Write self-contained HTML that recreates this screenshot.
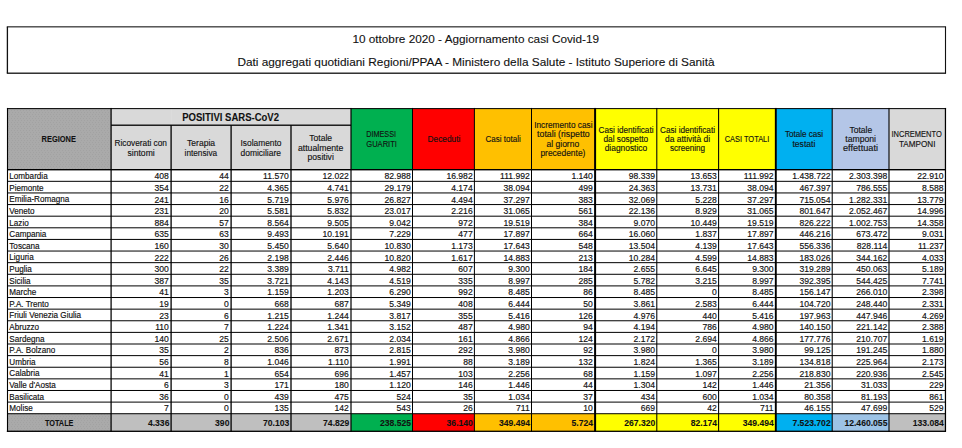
<!DOCTYPE html>
<html><head><meta charset="utf-8"><title>Aggiornamento casi Covid-19</title>
<style>html,body{margin:0;padding:0;background:#fff;width:962px;height:448px;overflow:hidden}</style>
</head><body>
<svg width="962" height="448" viewBox="0 0 962 448" style="position:absolute;left:0;top:0;display:block" font-family='"Liberation Sans", sans-serif' fill="#111" stroke="#111" stroke-width="0.16" paint-order="stroke">
<defs><pattern id="dots" width="3" height="4" patternUnits="userSpaceOnUse" stroke="none"><rect width="3" height="4" fill="#AAAAAA"/><rect x="0" y="0" width="1" height="1" fill="#A2A2A2"/><rect x="2" y="2" width="1" height="1" fill="#A2A2A2"/></pattern></defs>
<rect x="0" y="0" width="962" height="448" fill="#fff" stroke="none"/>
<rect x="7.50" y="108.55" width="103.60" height="61.15" fill="url(#dots)" stroke="none"/>
<rect x="111.10" y="108.55" width="60.00" height="61.15" fill="#D9D9D9" stroke="none"/>
<rect x="171.10" y="108.55" width="60.00" height="61.15" fill="#D9D9D9" stroke="none"/>
<rect x="231.10" y="108.55" width="59.90" height="61.15" fill="#D9D9D9" stroke="none"/>
<rect x="291.00" y="108.55" width="60.00" height="61.15" fill="#D9D9D9" stroke="none"/>
<rect x="351.00" y="108.55" width="61.50" height="61.15" fill="#00B050" stroke="none"/>
<rect x="412.50" y="108.55" width="61.90" height="61.15" fill="#FF0000" stroke="none"/>
<rect x="474.40" y="108.55" width="57.10" height="61.15" fill="#FFC000" stroke="none"/>
<rect x="531.50" y="108.55" width="63.60" height="61.15" fill="#FFC000" stroke="none"/>
<rect x="595.10" y="108.55" width="61.70" height="61.15" fill="#FFFF00" stroke="none"/>
<rect x="656.80" y="108.55" width="61.80" height="61.15" fill="#FFFF00" stroke="none"/>
<rect x="718.60" y="108.55" width="57.20" height="61.15" fill="#FFFF00" stroke="none"/>
<rect x="775.80" y="108.55" width="56.40" height="61.15" fill="#00B0F0" stroke="none"/>
<rect x="832.20" y="108.55" width="56.80" height="61.15" fill="#B4C6E7" stroke="none"/>
<rect x="889.00" y="108.55" width="56.45" height="61.15" fill="#D9D9D9" stroke="none"/>
<rect x="7.50" y="413.72" width="103.60" height="17.58" fill="url(#dots)" stroke="none"/>
<rect x="111.10" y="413.72" width="60.00" height="17.58" fill="#BFBFBF" stroke="none"/>
<rect x="171.10" y="413.72" width="60.00" height="17.58" fill="#BFBFBF" stroke="none"/>
<rect x="231.10" y="413.72" width="59.90" height="17.58" fill="#BFBFBF" stroke="none"/>
<rect x="291.00" y="413.72" width="60.00" height="17.58" fill="#BFBFBF" stroke="none"/>
<rect x="351.00" y="413.72" width="61.50" height="17.58" fill="#00B050" stroke="none"/>
<rect x="412.50" y="413.72" width="61.90" height="17.58" fill="#FF0000" stroke="none"/>
<rect x="474.40" y="413.72" width="57.10" height="17.58" fill="#FFC000" stroke="none"/>
<rect x="531.50" y="413.72" width="63.60" height="17.58" fill="#FFC000" stroke="none"/>
<rect x="595.10" y="413.72" width="61.70" height="17.58" fill="#FFFF00" stroke="none"/>
<rect x="656.80" y="413.72" width="61.80" height="17.58" fill="#FFFF00" stroke="none"/>
<rect x="718.60" y="413.72" width="57.20" height="17.58" fill="#FFFF00" stroke="none"/>
<rect x="775.80" y="413.72" width="56.40" height="17.58" fill="#00B0F0" stroke="none"/>
<rect x="832.20" y="413.72" width="56.80" height="17.58" fill="#9DC3E6" stroke="none"/>
<rect x="889.00" y="413.72" width="56.45" height="17.58" fill="#BFBFBF" stroke="none"/>
<rect x="6.80" y="26.10" width="939.25" height="1.40" fill="#484848" stroke="none"/>
<rect x="6.80" y="72.55" width="939.25" height="1.30" fill="#111" stroke="none"/>
<rect x="6.75" y="26.80" width="1.30" height="46.40" fill="#111" stroke="none"/>
<rect x="944.95" y="26.80" width="1.10" height="46.40" fill="#111" stroke="none"/>
<rect x="6.95" y="107.95" width="1.10" height="323.95" fill="#000" stroke="none"/>
<rect x="110.47" y="107.95" width="1.25" height="323.95" fill="#000" stroke="none"/>
<rect x="170.45" y="125.20" width="1.30" height="306.70" fill="#000" stroke="none"/>
<rect x="230.45" y="125.20" width="1.30" height="306.70" fill="#000" stroke="none"/>
<rect x="290.35" y="125.20" width="1.30" height="306.70" fill="#000" stroke="none"/>
<rect x="350.40" y="107.95" width="1.20" height="323.95" fill="#000" stroke="none"/>
<rect x="412.00" y="107.95" width="1.00" height="323.95" fill="#000" stroke="none"/>
<rect x="473.90" y="107.95" width="1.00" height="323.95" fill="#000" stroke="none"/>
<rect x="531.00" y="107.95" width="1.00" height="323.95" fill="#000" stroke="none"/>
<rect x="594.10" y="107.95" width="2.00" height="323.95" fill="#000" stroke="none"/>
<rect x="656.27" y="107.95" width="1.05" height="323.95" fill="#000" stroke="none"/>
<rect x="718.08" y="107.95" width="1.05" height="323.95" fill="#000" stroke="none"/>
<rect x="774.85" y="107.95" width="1.90" height="323.95" fill="#000" stroke="none"/>
<rect x="831.68" y="107.95" width="1.05" height="323.95" fill="#000" stroke="none"/>
<rect x="888.45" y="107.95" width="1.10" height="323.95" fill="#000" stroke="none"/>
<rect x="944.83" y="107.95" width="1.25" height="323.95" fill="#000" stroke="none"/>
<rect x="6.95" y="108.10" width="939.10" height="1.00" fill="#000" stroke="none"/>
<rect x="111.10" y="124.55" width="239.90" height="1.30" fill="#000" stroke="none"/>
<rect x="7.50" y="169.00" width="937.95" height="1.40" fill="#000" stroke="none"/>
<rect x="7.50" y="180.82" width="937.95" height="1.00" fill="#000" stroke="none"/>
<rect x="7.50" y="192.44" width="937.95" height="1.00" fill="#000" stroke="none"/>
<rect x="7.50" y="204.06" width="937.95" height="1.00" fill="#000" stroke="none"/>
<rect x="7.50" y="215.68" width="937.95" height="1.00" fill="#000" stroke="none"/>
<rect x="7.50" y="227.30" width="937.95" height="1.00" fill="#000" stroke="none"/>
<rect x="7.50" y="238.92" width="937.95" height="1.00" fill="#000" stroke="none"/>
<rect x="7.50" y="250.54" width="937.95" height="1.00" fill="#000" stroke="none"/>
<rect x="7.50" y="262.16" width="937.95" height="1.00" fill="#000" stroke="none"/>
<rect x="7.50" y="273.78" width="937.95" height="1.00" fill="#000" stroke="none"/>
<rect x="7.50" y="285.40" width="937.95" height="1.00" fill="#000" stroke="none"/>
<rect x="7.50" y="297.02" width="937.95" height="1.00" fill="#000" stroke="none"/>
<rect x="7.50" y="308.64" width="937.95" height="1.00" fill="#000" stroke="none"/>
<rect x="7.50" y="320.26" width="937.95" height="1.00" fill="#000" stroke="none"/>
<rect x="7.50" y="331.88" width="937.95" height="1.00" fill="#000" stroke="none"/>
<rect x="7.50" y="343.50" width="937.95" height="1.00" fill="#000" stroke="none"/>
<rect x="7.50" y="355.12" width="937.95" height="1.00" fill="#000" stroke="none"/>
<rect x="7.50" y="366.74" width="937.95" height="1.00" fill="#000" stroke="none"/>
<rect x="7.50" y="378.36" width="937.95" height="1.00" fill="#000" stroke="none"/>
<rect x="7.50" y="389.98" width="937.95" height="1.00" fill="#000" stroke="none"/>
<rect x="7.50" y="401.60" width="937.95" height="1.00" fill="#000" stroke="none"/>
<rect x="7.50" y="413.22" width="937.95" height="1.00" fill="#000" stroke="none"/>
<rect x="6.85" y="430.65" width="939.15" height="1.30" fill="#000" stroke="none"/>
<text x="475.70" y="42.60" font-size="11.3" text-anchor="middle" textLength="246.60" lengthAdjust="spacingAndGlyphs" stroke-width="0.1">10 ottobre 2020 - Aggiornamento casi Covid-19</text>
<text x="476.00" y="65.50" font-size="11.3" text-anchor="middle" textLength="477.20" lengthAdjust="spacingAndGlyphs" stroke-width="0.1">Dati aggregati quotidiani Regioni/PPAA - Ministero della Salute - Istituto Superiore di Sanità</text>
<text x="58.75" y="141.50" font-size="8.6" text-anchor="middle" font-weight="700" textLength="34.30" lengthAdjust="spacingAndGlyphs" stroke-width="0.08">REGIONE</text>
<text x="230.60" y="121.00" font-size="10.2" text-anchor="middle" font-weight="700" textLength="96.80" lengthAdjust="spacingAndGlyphs" stroke-width="0.08">POSITIVI SARS-CoV2</text>
<text x="140.70" y="146.00" font-size="8.35" text-anchor="middle" textLength="52.60" lengthAdjust="spacingAndGlyphs" stroke-width="0.13">Ricoverati con</text>
<text x="141.10" y="155.70" font-size="8.35" text-anchor="middle" textLength="27.20" lengthAdjust="spacingAndGlyphs" stroke-width="0.13">sintomi</text>
<text x="201.10" y="146.00" font-size="8.35" text-anchor="middle" textLength="28.00" lengthAdjust="spacingAndGlyphs" stroke-width="0.13">Terapia</text>
<text x="200.85" y="155.70" font-size="8.35" text-anchor="middle" textLength="32.50" lengthAdjust="spacingAndGlyphs" stroke-width="0.13">intensiva</text>
<text x="261.00" y="145.90" font-size="8.35" text-anchor="middle" textLength="41.00" lengthAdjust="spacingAndGlyphs" stroke-width="0.13">Isolamento</text>
<text x="260.75" y="155.60" font-size="8.35" text-anchor="middle" textLength="40.50" lengthAdjust="spacingAndGlyphs" stroke-width="0.13">domiciliare</text>
<text x="320.65" y="140.90" font-size="8.35" text-anchor="middle" textLength="22.90" lengthAdjust="spacingAndGlyphs" stroke-width="0.13">Totale</text>
<text x="320.65" y="150.90" font-size="8.35" text-anchor="middle" textLength="45.50" lengthAdjust="spacingAndGlyphs" stroke-width="0.13">attualmente</text>
<text x="320.70" y="159.60" font-size="8.35" text-anchor="middle" textLength="26.20" lengthAdjust="spacingAndGlyphs" stroke-width="0.13">positivi</text>
<text x="381.15" y="137.10" font-size="8.35" text-anchor="middle" textLength="29.70" lengthAdjust="spacingAndGlyphs" stroke-width="0.13">DIMESSI</text>
<text x="381.60" y="146.80" font-size="8.35" text-anchor="middle" textLength="30.60" lengthAdjust="spacingAndGlyphs" stroke-width="0.13">GUARITI</text>
<text x="443.95" y="141.80" font-size="8.35" text-anchor="middle" textLength="32.90" lengthAdjust="spacingAndGlyphs" stroke-width="0.13">Deceduti</text>
<text x="503.10" y="141.80" font-size="8.35" text-anchor="middle" textLength="35.20" lengthAdjust="spacingAndGlyphs" stroke-width="0.13">Casi totali</text>
<text x="563.35" y="127.60" font-size="8.35" text-anchor="middle" textLength="58.30" lengthAdjust="spacingAndGlyphs" stroke-width="0.13">Incremento casi</text>
<text x="563.40" y="137.30" font-size="8.35" text-anchor="middle" textLength="52.60" lengthAdjust="spacingAndGlyphs" stroke-width="0.13">totali (rispetto</text>
<text x="562.85" y="146.80" font-size="8.35" text-anchor="middle" textLength="32.70" lengthAdjust="spacingAndGlyphs" stroke-width="0.13">al giorno</text>
<text x="562.90" y="156.40" font-size="8.35" text-anchor="middle" textLength="45.00" lengthAdjust="spacingAndGlyphs" stroke-width="0.13">precedente)</text>
<text x="626.00" y="132.60" font-size="8.35" text-anchor="middle" textLength="55.00" lengthAdjust="spacingAndGlyphs" stroke-width="0.13">Casi identificati</text>
<text x="625.85" y="141.80" font-size="8.35" text-anchor="middle" textLength="44.70" lengthAdjust="spacingAndGlyphs" stroke-width="0.13">dal sospetto</text>
<text x="625.95" y="151.20" font-size="8.35" text-anchor="middle" textLength="42.50" lengthAdjust="spacingAndGlyphs" stroke-width="0.13">diagnostico</text>
<text x="687.50" y="132.60" font-size="8.35" text-anchor="middle" textLength="55.00" lengthAdjust="spacingAndGlyphs" stroke-width="0.13">Casi identificati</text>
<text x="687.55" y="141.80" font-size="8.35" text-anchor="middle" textLength="45.10" lengthAdjust="spacingAndGlyphs" stroke-width="0.13">da attività di</text>
<text x="687.50" y="151.20" font-size="8.35" text-anchor="middle" textLength="35.20" lengthAdjust="spacingAndGlyphs" stroke-width="0.13">screening</text>
<text x="747.00" y="141.80" font-size="8.35" text-anchor="middle" textLength="44.60" lengthAdjust="spacingAndGlyphs" stroke-width="0.13">CASI TOTALI</text>
<text x="804.00" y="137.10" font-size="8.35" text-anchor="middle" textLength="38.20" lengthAdjust="spacingAndGlyphs" stroke-width="0.13">Totale casi</text>
<text x="803.90" y="146.80" font-size="8.35" text-anchor="middle" textLength="23.00" lengthAdjust="spacingAndGlyphs" stroke-width="0.13">testati</text>
<text x="860.80" y="132.60" font-size="8.35" text-anchor="middle" textLength="22.80" lengthAdjust="spacingAndGlyphs" stroke-width="0.13">Totale</text>
<text x="860.65" y="141.80" font-size="8.35" text-anchor="middle" textLength="30.70" lengthAdjust="spacingAndGlyphs" stroke-width="0.13">tamponi</text>
<text x="860.50" y="151.20" font-size="8.35" text-anchor="middle" textLength="35.00" lengthAdjust="spacingAndGlyphs" stroke-width="0.13">effettuati</text>
<text x="916.60" y="137.10" font-size="8.35" text-anchor="middle" textLength="50.20" lengthAdjust="spacingAndGlyphs" stroke-width="0.13">INCREMENTO</text>
<text x="917.20" y="146.80" font-size="8.35" text-anchor="middle" textLength="36.40" lengthAdjust="spacingAndGlyphs" stroke-width="0.13">TAMPONI</text>
<text x="9.30" y="179.22" font-size="8.15">Lombardia</text>
<text x="168.85" y="179.42" font-size="8.6" text-anchor="end">408</text>
<text x="228.85" y="179.42" font-size="8.6" text-anchor="end">44</text>
<text x="288.75" y="179.42" font-size="8.6" text-anchor="end">11.570</text>
<text x="348.80" y="179.42" font-size="8.6" text-anchor="end">12.022</text>
<text x="410.80" y="179.42" font-size="8.6" text-anchor="end">82.988</text>
<text x="472.70" y="179.42" font-size="8.6" text-anchor="end">16.982</text>
<text x="529.80" y="179.42" font-size="8.6" text-anchor="end">111.992</text>
<text x="592.90" y="179.42" font-size="8.6" text-anchor="end">1.140</text>
<text x="655.07" y="179.42" font-size="8.6" text-anchor="end">98.339</text>
<text x="716.88" y="179.42" font-size="8.6" text-anchor="end">13.653</text>
<text x="773.65" y="179.42" font-size="8.6" text-anchor="end">111.992</text>
<text x="830.48" y="179.42" font-size="8.6" text-anchor="end">1.438.722</text>
<text x="887.25" y="179.42" font-size="8.6" text-anchor="end">2.303.398</text>
<text x="943.62" y="179.42" font-size="8.6" text-anchor="end">22.910</text>
<text x="9.30" y="190.82" font-size="8.15">Piemonte</text>
<text x="168.85" y="191.02" font-size="8.6" text-anchor="end">354</text>
<text x="228.85" y="191.02" font-size="8.6" text-anchor="end">22</text>
<text x="288.75" y="191.02" font-size="8.6" text-anchor="end">4.365</text>
<text x="348.80" y="191.02" font-size="8.6" text-anchor="end">4.741</text>
<text x="410.80" y="191.02" font-size="8.6" text-anchor="end">29.179</text>
<text x="472.70" y="191.02" font-size="8.6" text-anchor="end">4.174</text>
<text x="529.80" y="191.02" font-size="8.6" text-anchor="end">38.094</text>
<text x="592.90" y="191.02" font-size="8.6" text-anchor="end">499</text>
<text x="655.07" y="191.02" font-size="8.6" text-anchor="end">24.363</text>
<text x="716.88" y="191.02" font-size="8.6" text-anchor="end">13.731</text>
<text x="773.65" y="191.02" font-size="8.6" text-anchor="end">38.094</text>
<text x="830.48" y="191.02" font-size="8.6" text-anchor="end">467.397</text>
<text x="887.25" y="191.02" font-size="8.6" text-anchor="end">786.555</text>
<text x="943.62" y="191.02" font-size="8.6" text-anchor="end">8.588</text>
<text x="9.30" y="202.42" font-size="8.15">Emilia-Romagna</text>
<text x="168.85" y="202.62" font-size="8.6" text-anchor="end">241</text>
<text x="228.85" y="202.62" font-size="8.6" text-anchor="end">16</text>
<text x="288.75" y="202.62" font-size="8.6" text-anchor="end">5.719</text>
<text x="348.80" y="202.62" font-size="8.6" text-anchor="end">5.976</text>
<text x="410.80" y="202.62" font-size="8.6" text-anchor="end">26.827</text>
<text x="472.70" y="202.62" font-size="8.6" text-anchor="end">4.494</text>
<text x="529.80" y="202.62" font-size="8.6" text-anchor="end">37.297</text>
<text x="592.90" y="202.62" font-size="8.6" text-anchor="end">383</text>
<text x="655.07" y="202.62" font-size="8.6" text-anchor="end">32.069</text>
<text x="716.88" y="202.62" font-size="8.6" text-anchor="end">5.228</text>
<text x="773.65" y="202.62" font-size="8.6" text-anchor="end">37.297</text>
<text x="830.48" y="202.62" font-size="8.6" text-anchor="end">715.054</text>
<text x="887.25" y="202.62" font-size="8.6" text-anchor="end">1.282.331</text>
<text x="943.62" y="202.62" font-size="8.6" text-anchor="end">13.779</text>
<text x="9.30" y="214.01" font-size="8.15">Veneto</text>
<text x="168.85" y="214.21" font-size="8.6" text-anchor="end">231</text>
<text x="228.85" y="214.21" font-size="8.6" text-anchor="end">20</text>
<text x="288.75" y="214.21" font-size="8.6" text-anchor="end">5.581</text>
<text x="348.80" y="214.21" font-size="8.6" text-anchor="end">5.832</text>
<text x="410.80" y="214.21" font-size="8.6" text-anchor="end">23.017</text>
<text x="472.70" y="214.21" font-size="8.6" text-anchor="end">2.216</text>
<text x="529.80" y="214.21" font-size="8.6" text-anchor="end">31.065</text>
<text x="592.90" y="214.21" font-size="8.6" text-anchor="end">561</text>
<text x="655.07" y="214.21" font-size="8.6" text-anchor="end">22.136</text>
<text x="716.88" y="214.21" font-size="8.6" text-anchor="end">8.929</text>
<text x="773.65" y="214.21" font-size="8.6" text-anchor="end">31.065</text>
<text x="830.48" y="214.21" font-size="8.6" text-anchor="end">801.647</text>
<text x="887.25" y="214.21" font-size="8.6" text-anchor="end">2.052.467</text>
<text x="943.62" y="214.21" font-size="8.6" text-anchor="end">14.996</text>
<text x="9.30" y="225.61" font-size="8.15">Lazio</text>
<text x="168.85" y="225.81" font-size="8.6" text-anchor="end">884</text>
<text x="228.85" y="225.81" font-size="8.6" text-anchor="end">57</text>
<text x="288.75" y="225.81" font-size="8.6" text-anchor="end">8.564</text>
<text x="348.80" y="225.81" font-size="8.6" text-anchor="end">9.505</text>
<text x="410.80" y="225.81" font-size="8.6" text-anchor="end">9.042</text>
<text x="472.70" y="225.81" font-size="8.6" text-anchor="end">972</text>
<text x="529.80" y="225.81" font-size="8.6" text-anchor="end">19.519</text>
<text x="592.90" y="225.81" font-size="8.6" text-anchor="end">384</text>
<text x="655.07" y="225.81" font-size="8.6" text-anchor="end">9.070</text>
<text x="716.88" y="225.81" font-size="8.6" text-anchor="end">10.449</text>
<text x="773.65" y="225.81" font-size="8.6" text-anchor="end">19.519</text>
<text x="830.48" y="225.81" font-size="8.6" text-anchor="end">826.222</text>
<text x="887.25" y="225.81" font-size="8.6" text-anchor="end">1.002.753</text>
<text x="943.62" y="225.81" font-size="8.6" text-anchor="end">14.358</text>
<text x="9.30" y="237.21" font-size="8.15">Campania</text>
<text x="168.85" y="237.41" font-size="8.6" text-anchor="end">635</text>
<text x="228.85" y="237.41" font-size="8.6" text-anchor="end">63</text>
<text x="288.75" y="237.41" font-size="8.6" text-anchor="end">9.493</text>
<text x="348.80" y="237.41" font-size="8.6" text-anchor="end">10.191</text>
<text x="410.80" y="237.41" font-size="8.6" text-anchor="end">7.229</text>
<text x="472.70" y="237.41" font-size="8.6" text-anchor="end">477</text>
<text x="529.80" y="237.41" font-size="8.6" text-anchor="end">17.897</text>
<text x="592.90" y="237.41" font-size="8.6" text-anchor="end">664</text>
<text x="655.07" y="237.41" font-size="8.6" text-anchor="end">16.060</text>
<text x="716.88" y="237.41" font-size="8.6" text-anchor="end">1.837</text>
<text x="773.65" y="237.41" font-size="8.6" text-anchor="end">17.897</text>
<text x="830.48" y="237.41" font-size="8.6" text-anchor="end">446.216</text>
<text x="887.25" y="237.41" font-size="8.6" text-anchor="end">673.472</text>
<text x="943.62" y="237.41" font-size="8.6" text-anchor="end">9.031</text>
<text x="9.30" y="248.81" font-size="8.15">Toscana</text>
<text x="168.85" y="249.01" font-size="8.6" text-anchor="end">160</text>
<text x="228.85" y="249.01" font-size="8.6" text-anchor="end">30</text>
<text x="288.75" y="249.01" font-size="8.6" text-anchor="end">5.450</text>
<text x="348.80" y="249.01" font-size="8.6" text-anchor="end">5.640</text>
<text x="410.80" y="249.01" font-size="8.6" text-anchor="end">10.830</text>
<text x="472.70" y="249.01" font-size="8.6" text-anchor="end">1.173</text>
<text x="529.80" y="249.01" font-size="8.6" text-anchor="end">17.643</text>
<text x="592.90" y="249.01" font-size="8.6" text-anchor="end">548</text>
<text x="655.07" y="249.01" font-size="8.6" text-anchor="end">13.504</text>
<text x="716.88" y="249.01" font-size="8.6" text-anchor="end">4.139</text>
<text x="773.65" y="249.01" font-size="8.6" text-anchor="end">17.643</text>
<text x="830.48" y="249.01" font-size="8.6" text-anchor="end">556.336</text>
<text x="887.25" y="249.01" font-size="8.6" text-anchor="end">828.114</text>
<text x="943.62" y="249.01" font-size="8.6" text-anchor="end">11.237</text>
<text x="9.30" y="260.41" font-size="8.15">Liguria</text>
<text x="168.85" y="260.61" font-size="8.6" text-anchor="end">222</text>
<text x="228.85" y="260.61" font-size="8.6" text-anchor="end">26</text>
<text x="288.75" y="260.61" font-size="8.6" text-anchor="end">2.198</text>
<text x="348.80" y="260.61" font-size="8.6" text-anchor="end">2.446</text>
<text x="410.80" y="260.61" font-size="8.6" text-anchor="end">10.820</text>
<text x="472.70" y="260.61" font-size="8.6" text-anchor="end">1.617</text>
<text x="529.80" y="260.61" font-size="8.6" text-anchor="end">14.883</text>
<text x="592.90" y="260.61" font-size="8.6" text-anchor="end">213</text>
<text x="655.07" y="260.61" font-size="8.6" text-anchor="end">10.284</text>
<text x="716.88" y="260.61" font-size="8.6" text-anchor="end">4.599</text>
<text x="773.65" y="260.61" font-size="8.6" text-anchor="end">14.883</text>
<text x="830.48" y="260.61" font-size="8.6" text-anchor="end">183.026</text>
<text x="887.25" y="260.61" font-size="8.6" text-anchor="end">344.162</text>
<text x="943.62" y="260.61" font-size="8.6" text-anchor="end">4.033</text>
<text x="9.30" y="272.00" font-size="8.15">Puglia</text>
<text x="168.85" y="272.20" font-size="8.6" text-anchor="end">300</text>
<text x="228.85" y="272.20" font-size="8.6" text-anchor="end">22</text>
<text x="288.75" y="272.20" font-size="8.6" text-anchor="end">3.389</text>
<text x="348.80" y="272.20" font-size="8.6" text-anchor="end">3.711</text>
<text x="410.80" y="272.20" font-size="8.6" text-anchor="end">4.982</text>
<text x="472.70" y="272.20" font-size="8.6" text-anchor="end">607</text>
<text x="529.80" y="272.20" font-size="8.6" text-anchor="end">9.300</text>
<text x="592.90" y="272.20" font-size="8.6" text-anchor="end">184</text>
<text x="655.07" y="272.20" font-size="8.6" text-anchor="end">2.655</text>
<text x="716.88" y="272.20" font-size="8.6" text-anchor="end">6.645</text>
<text x="773.65" y="272.20" font-size="8.6" text-anchor="end">9.300</text>
<text x="830.48" y="272.20" font-size="8.6" text-anchor="end">319.289</text>
<text x="887.25" y="272.20" font-size="8.6" text-anchor="end">450.063</text>
<text x="943.62" y="272.20" font-size="8.6" text-anchor="end">5.189</text>
<text x="9.30" y="283.60" font-size="8.15">Sicilia</text>
<text x="168.85" y="283.80" font-size="8.6" text-anchor="end">387</text>
<text x="228.85" y="283.80" font-size="8.6" text-anchor="end">35</text>
<text x="288.75" y="283.80" font-size="8.6" text-anchor="end">3.721</text>
<text x="348.80" y="283.80" font-size="8.6" text-anchor="end">4.143</text>
<text x="410.80" y="283.80" font-size="8.6" text-anchor="end">4.519</text>
<text x="472.70" y="283.80" font-size="8.6" text-anchor="end">335</text>
<text x="529.80" y="283.80" font-size="8.6" text-anchor="end">8.997</text>
<text x="592.90" y="283.80" font-size="8.6" text-anchor="end">285</text>
<text x="655.07" y="283.80" font-size="8.6" text-anchor="end">5.782</text>
<text x="716.88" y="283.80" font-size="8.6" text-anchor="end">3.215</text>
<text x="773.65" y="283.80" font-size="8.6" text-anchor="end">8.997</text>
<text x="830.48" y="283.80" font-size="8.6" text-anchor="end">392.395</text>
<text x="887.25" y="283.80" font-size="8.6" text-anchor="end">544.425</text>
<text x="943.62" y="283.80" font-size="8.6" text-anchor="end">7.741</text>
<text x="9.30" y="295.20" font-size="8.15">Marche</text>
<text x="168.85" y="295.40" font-size="8.6" text-anchor="end">41</text>
<text x="228.85" y="295.40" font-size="8.6" text-anchor="end">3</text>
<text x="288.75" y="295.40" font-size="8.6" text-anchor="end">1.159</text>
<text x="348.80" y="295.40" font-size="8.6" text-anchor="end">1.203</text>
<text x="410.80" y="295.40" font-size="8.6" text-anchor="end">6.290</text>
<text x="472.70" y="295.40" font-size="8.6" text-anchor="end">992</text>
<text x="529.80" y="295.40" font-size="8.6" text-anchor="end">8.485</text>
<text x="592.90" y="295.40" font-size="8.6" text-anchor="end">86</text>
<text x="655.07" y="295.40" font-size="8.6" text-anchor="end">8.485</text>
<text x="716.88" y="295.40" font-size="8.6" text-anchor="end">0</text>
<text x="773.65" y="295.40" font-size="8.6" text-anchor="end">8.485</text>
<text x="830.48" y="295.40" font-size="8.6" text-anchor="end">156.147</text>
<text x="887.25" y="295.40" font-size="8.6" text-anchor="end">266.010</text>
<text x="943.62" y="295.40" font-size="8.6" text-anchor="end">2.398</text>
<text x="9.30" y="306.80" font-size="8.15">P.A. Trento</text>
<text x="168.85" y="307.00" font-size="8.6" text-anchor="end">19</text>
<text x="228.85" y="307.00" font-size="8.6" text-anchor="end">0</text>
<text x="288.75" y="307.00" font-size="8.6" text-anchor="end">668</text>
<text x="348.80" y="307.00" font-size="8.6" text-anchor="end">687</text>
<text x="410.80" y="307.00" font-size="8.6" text-anchor="end">5.349</text>
<text x="472.70" y="307.00" font-size="8.6" text-anchor="end">408</text>
<text x="529.80" y="307.00" font-size="8.6" text-anchor="end">6.444</text>
<text x="592.90" y="307.00" font-size="8.6" text-anchor="end">50</text>
<text x="655.07" y="307.00" font-size="8.6" text-anchor="end">3.861</text>
<text x="716.88" y="307.00" font-size="8.6" text-anchor="end">2.583</text>
<text x="773.65" y="307.00" font-size="8.6" text-anchor="end">6.444</text>
<text x="830.48" y="307.00" font-size="8.6" text-anchor="end">104.720</text>
<text x="887.25" y="307.00" font-size="8.6" text-anchor="end">248.440</text>
<text x="943.62" y="307.00" font-size="8.6" text-anchor="end">2.331</text>
<text x="9.30" y="318.40" font-size="8.15">Friuli Venezia Giulia</text>
<text x="168.85" y="318.60" font-size="8.6" text-anchor="end">23</text>
<text x="228.85" y="318.60" font-size="8.6" text-anchor="end">6</text>
<text x="288.75" y="318.60" font-size="8.6" text-anchor="end">1.215</text>
<text x="348.80" y="318.60" font-size="8.6" text-anchor="end">1.244</text>
<text x="410.80" y="318.60" font-size="8.6" text-anchor="end">3.817</text>
<text x="472.70" y="318.60" font-size="8.6" text-anchor="end">355</text>
<text x="529.80" y="318.60" font-size="8.6" text-anchor="end">5.416</text>
<text x="592.90" y="318.60" font-size="8.6" text-anchor="end">126</text>
<text x="655.07" y="318.60" font-size="8.6" text-anchor="end">4.976</text>
<text x="716.88" y="318.60" font-size="8.6" text-anchor="end">440</text>
<text x="773.65" y="318.60" font-size="8.6" text-anchor="end">5.416</text>
<text x="830.48" y="318.60" font-size="8.6" text-anchor="end">197.963</text>
<text x="887.25" y="318.60" font-size="8.6" text-anchor="end">447.946</text>
<text x="943.62" y="318.60" font-size="8.6" text-anchor="end">4.269</text>
<text x="9.30" y="329.99" font-size="8.15">Abruzzo</text>
<text x="168.85" y="330.19" font-size="8.6" text-anchor="end">110</text>
<text x="228.85" y="330.19" font-size="8.6" text-anchor="end">7</text>
<text x="288.75" y="330.19" font-size="8.6" text-anchor="end">1.224</text>
<text x="348.80" y="330.19" font-size="8.6" text-anchor="end">1.341</text>
<text x="410.80" y="330.19" font-size="8.6" text-anchor="end">3.152</text>
<text x="472.70" y="330.19" font-size="8.6" text-anchor="end">487</text>
<text x="529.80" y="330.19" font-size="8.6" text-anchor="end">4.980</text>
<text x="592.90" y="330.19" font-size="8.6" text-anchor="end">94</text>
<text x="655.07" y="330.19" font-size="8.6" text-anchor="end">4.194</text>
<text x="716.88" y="330.19" font-size="8.6" text-anchor="end">786</text>
<text x="773.65" y="330.19" font-size="8.6" text-anchor="end">4.980</text>
<text x="830.48" y="330.19" font-size="8.6" text-anchor="end">140.150</text>
<text x="887.25" y="330.19" font-size="8.6" text-anchor="end">221.142</text>
<text x="943.62" y="330.19" font-size="8.6" text-anchor="end">2.388</text>
<text x="9.30" y="341.59" font-size="8.15">Sardegna</text>
<text x="168.85" y="341.79" font-size="8.6" text-anchor="end">140</text>
<text x="228.85" y="341.79" font-size="8.6" text-anchor="end">25</text>
<text x="288.75" y="341.79" font-size="8.6" text-anchor="end">2.506</text>
<text x="348.80" y="341.79" font-size="8.6" text-anchor="end">2.671</text>
<text x="410.80" y="341.79" font-size="8.6" text-anchor="end">2.034</text>
<text x="472.70" y="341.79" font-size="8.6" text-anchor="end">161</text>
<text x="529.80" y="341.79" font-size="8.6" text-anchor="end">4.866</text>
<text x="592.90" y="341.79" font-size="8.6" text-anchor="end">124</text>
<text x="655.07" y="341.79" font-size="8.6" text-anchor="end">2.172</text>
<text x="716.88" y="341.79" font-size="8.6" text-anchor="end">2.694</text>
<text x="773.65" y="341.79" font-size="8.6" text-anchor="end">4.866</text>
<text x="830.48" y="341.79" font-size="8.6" text-anchor="end">177.776</text>
<text x="887.25" y="341.79" font-size="8.6" text-anchor="end">210.707</text>
<text x="943.62" y="341.79" font-size="8.6" text-anchor="end">1.619</text>
<text x="9.30" y="353.19" font-size="8.15">P.A. Bolzano</text>
<text x="168.85" y="353.39" font-size="8.6" text-anchor="end">35</text>
<text x="228.85" y="353.39" font-size="8.6" text-anchor="end">2</text>
<text x="288.75" y="353.39" font-size="8.6" text-anchor="end">836</text>
<text x="348.80" y="353.39" font-size="8.6" text-anchor="end">873</text>
<text x="410.80" y="353.39" font-size="8.6" text-anchor="end">2.815</text>
<text x="472.70" y="353.39" font-size="8.6" text-anchor="end">292</text>
<text x="529.80" y="353.39" font-size="8.6" text-anchor="end">3.980</text>
<text x="592.90" y="353.39" font-size="8.6" text-anchor="end">92</text>
<text x="655.07" y="353.39" font-size="8.6" text-anchor="end">3.980</text>
<text x="716.88" y="353.39" font-size="8.6" text-anchor="end">0</text>
<text x="773.65" y="353.39" font-size="8.6" text-anchor="end">3.980</text>
<text x="830.48" y="353.39" font-size="8.6" text-anchor="end">99.125</text>
<text x="887.25" y="353.39" font-size="8.6" text-anchor="end">191.245</text>
<text x="943.62" y="353.39" font-size="8.6" text-anchor="end">1.880</text>
<text x="9.30" y="364.79" font-size="8.15">Umbria</text>
<text x="168.85" y="364.99" font-size="8.6" text-anchor="end">56</text>
<text x="228.85" y="364.99" font-size="8.6" text-anchor="end">8</text>
<text x="288.75" y="364.99" font-size="8.6" text-anchor="end">1.046</text>
<text x="348.80" y="364.99" font-size="8.6" text-anchor="end">1.110</text>
<text x="410.80" y="364.99" font-size="8.6" text-anchor="end">1.991</text>
<text x="472.70" y="364.99" font-size="8.6" text-anchor="end">88</text>
<text x="529.80" y="364.99" font-size="8.6" text-anchor="end">3.189</text>
<text x="592.90" y="364.99" font-size="8.6" text-anchor="end">132</text>
<text x="655.07" y="364.99" font-size="8.6" text-anchor="end">1.824</text>
<text x="716.88" y="364.99" font-size="8.6" text-anchor="end">1.365</text>
<text x="773.65" y="364.99" font-size="8.6" text-anchor="end">3.189</text>
<text x="830.48" y="364.99" font-size="8.6" text-anchor="end">134.818</text>
<text x="887.25" y="364.99" font-size="8.6" text-anchor="end">225.964</text>
<text x="943.62" y="364.99" font-size="8.6" text-anchor="end">2.173</text>
<text x="9.30" y="376.39" font-size="8.15">Calabria</text>
<text x="168.85" y="376.59" font-size="8.6" text-anchor="end">41</text>
<text x="228.85" y="376.59" font-size="8.6" text-anchor="end">1</text>
<text x="288.75" y="376.59" font-size="8.6" text-anchor="end">654</text>
<text x="348.80" y="376.59" font-size="8.6" text-anchor="end">696</text>
<text x="410.80" y="376.59" font-size="8.6" text-anchor="end">1.457</text>
<text x="472.70" y="376.59" font-size="8.6" text-anchor="end">103</text>
<text x="529.80" y="376.59" font-size="8.6" text-anchor="end">2.256</text>
<text x="592.90" y="376.59" font-size="8.6" text-anchor="end">68</text>
<text x="655.07" y="376.59" font-size="8.6" text-anchor="end">1.159</text>
<text x="716.88" y="376.59" font-size="8.6" text-anchor="end">1.097</text>
<text x="773.65" y="376.59" font-size="8.6" text-anchor="end">2.256</text>
<text x="830.48" y="376.59" font-size="8.6" text-anchor="end">218.830</text>
<text x="887.25" y="376.59" font-size="8.6" text-anchor="end">220.936</text>
<text x="943.62" y="376.59" font-size="8.6" text-anchor="end">2.545</text>
<text x="9.30" y="387.98" font-size="8.15">Valle d'Aosta</text>
<text x="168.85" y="388.18" font-size="8.6" text-anchor="end">6</text>
<text x="228.85" y="388.18" font-size="8.6" text-anchor="end">3</text>
<text x="288.75" y="388.18" font-size="8.6" text-anchor="end">171</text>
<text x="348.80" y="388.18" font-size="8.6" text-anchor="end">180</text>
<text x="410.80" y="388.18" font-size="8.6" text-anchor="end">1.120</text>
<text x="472.70" y="388.18" font-size="8.6" text-anchor="end">146</text>
<text x="529.80" y="388.18" font-size="8.6" text-anchor="end">1.446</text>
<text x="592.90" y="388.18" font-size="8.6" text-anchor="end">44</text>
<text x="655.07" y="388.18" font-size="8.6" text-anchor="end">1.304</text>
<text x="716.88" y="388.18" font-size="8.6" text-anchor="end">142</text>
<text x="773.65" y="388.18" font-size="8.6" text-anchor="end">1.446</text>
<text x="830.48" y="388.18" font-size="8.6" text-anchor="end">21.356</text>
<text x="887.25" y="388.18" font-size="8.6" text-anchor="end">31.033</text>
<text x="943.62" y="388.18" font-size="8.6" text-anchor="end">229</text>
<text x="9.30" y="399.58" font-size="8.15">Basilicata</text>
<text x="168.85" y="399.78" font-size="8.6" text-anchor="end">36</text>
<text x="228.85" y="399.78" font-size="8.6" text-anchor="end">0</text>
<text x="288.75" y="399.78" font-size="8.6" text-anchor="end">439</text>
<text x="348.80" y="399.78" font-size="8.6" text-anchor="end">475</text>
<text x="410.80" y="399.78" font-size="8.6" text-anchor="end">524</text>
<text x="472.70" y="399.78" font-size="8.6" text-anchor="end">35</text>
<text x="529.80" y="399.78" font-size="8.6" text-anchor="end">1.034</text>
<text x="592.90" y="399.78" font-size="8.6" text-anchor="end">37</text>
<text x="655.07" y="399.78" font-size="8.6" text-anchor="end">434</text>
<text x="716.88" y="399.78" font-size="8.6" text-anchor="end">600</text>
<text x="773.65" y="399.78" font-size="8.6" text-anchor="end">1.034</text>
<text x="830.48" y="399.78" font-size="8.6" text-anchor="end">80.358</text>
<text x="887.25" y="399.78" font-size="8.6" text-anchor="end">81.193</text>
<text x="943.62" y="399.78" font-size="8.6" text-anchor="end">861</text>
<text x="9.30" y="411.18" font-size="8.15">Molise</text>
<text x="168.85" y="411.38" font-size="8.6" text-anchor="end">7</text>
<text x="228.85" y="411.38" font-size="8.6" text-anchor="end">0</text>
<text x="288.75" y="411.38" font-size="8.6" text-anchor="end">135</text>
<text x="348.80" y="411.38" font-size="8.6" text-anchor="end">142</text>
<text x="410.80" y="411.38" font-size="8.6" text-anchor="end">543</text>
<text x="472.70" y="411.38" font-size="8.6" text-anchor="end">26</text>
<text x="529.80" y="411.38" font-size="8.6" text-anchor="end">711</text>
<text x="592.90" y="411.38" font-size="8.6" text-anchor="end">10</text>
<text x="655.07" y="411.38" font-size="8.6" text-anchor="end">669</text>
<text x="716.88" y="411.38" font-size="8.6" text-anchor="end">42</text>
<text x="773.65" y="411.38" font-size="8.6" text-anchor="end">711</text>
<text x="830.48" y="411.38" font-size="8.6" text-anchor="end">46.155</text>
<text x="887.25" y="411.38" font-size="8.6" text-anchor="end">47.699</text>
<text x="943.62" y="411.38" font-size="8.6" text-anchor="end">529</text>
<text x="59.20" y="426.00" font-size="8.6" text-anchor="middle" font-weight="700" textLength="28.60" lengthAdjust="spacingAndGlyphs" stroke-width="0.08">TOTALE</text>
<text x="169.45" y="426.00" font-size="8.6" text-anchor="end" font-weight="700" stroke-width="0.08">4.336</text>
<text x="229.45" y="426.00" font-size="8.6" text-anchor="end" font-weight="700" stroke-width="0.08">390</text>
<text x="289.35" y="426.00" font-size="8.6" text-anchor="end" font-weight="700" stroke-width="0.08">70.103</text>
<text x="349.40" y="426.00" font-size="8.6" text-anchor="end" font-weight="700" stroke-width="0.08">74.829</text>
<text x="411.00" y="426.00" font-size="8.6" text-anchor="end" font-weight="700" stroke-width="0.08">238.525</text>
<text x="472.90" y="426.00" font-size="8.6" text-anchor="end" font-weight="700" stroke-width="0.08">36.140</text>
<text x="530.00" y="426.00" font-size="8.6" text-anchor="end" font-weight="700" stroke-width="0.08">349.494</text>
<text x="593.10" y="426.00" font-size="8.6" text-anchor="end" font-weight="700" stroke-width="0.08">5.724</text>
<text x="655.27" y="426.00" font-size="8.6" text-anchor="end" font-weight="700" stroke-width="0.08">267.320</text>
<text x="717.08" y="426.00" font-size="8.6" text-anchor="end" font-weight="700" stroke-width="0.08">82.174</text>
<text x="773.85" y="426.00" font-size="8.6" text-anchor="end" font-weight="700" stroke-width="0.08">349.494</text>
<text x="830.68" y="426.00" font-size="8.6" text-anchor="end" font-weight="700" stroke-width="0.08">7.523.702</text>
<text x="887.45" y="426.00" font-size="8.6" text-anchor="end" font-weight="700" stroke-width="0.08">12.460.055</text>
<text x="943.83" y="426.00" font-size="8.6" text-anchor="end" font-weight="700" stroke-width="0.08">133.084</text>
</svg>
</body></html>
